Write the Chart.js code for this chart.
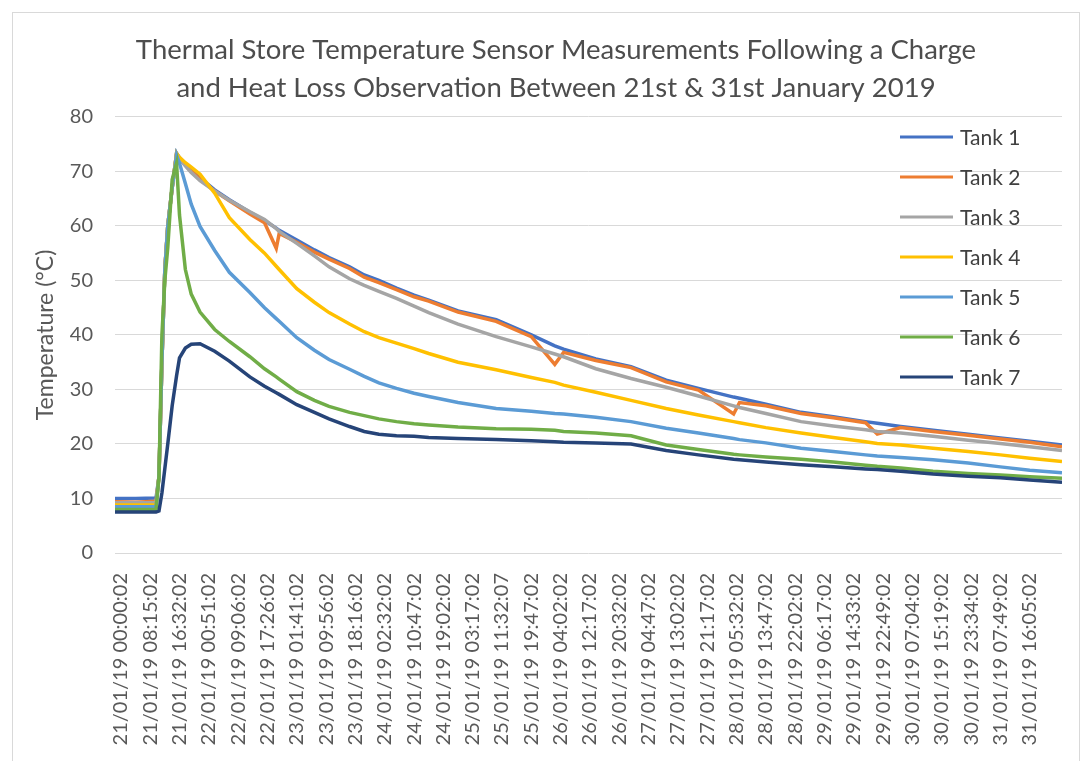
<!DOCTYPE html>
<html>
<head>
<meta charset="utf-8">
<script src="https://cdn.jsdelivr.net/npm/chart.js@4.4.1/dist/chart.umd.min.js"></script>
<style>
  html, body { margin: 0; padding: 0; background: #fff; }
</style>
</head>
<body>
<canvas id="tankChart" width="1091" height="761"></canvas>
<script>
// category labels shown on the x axis (one every ~8h15m of samples)
const tickLabels = [
    '21/01/19 00:00:02', '21/01/19 08:15:02', '21/01/19 16:32:02', '22/01/19 00:51:02',
    '22/01/19 09:06:02', '22/01/19 17:26:02', '23/01/19 01:41:02', '23/01/19 09:56:02',
    '23/01/19 18:16:02', '24/01/19 02:32:02', '24/01/19 10:47:02', '24/01/19 19:02:02',
    '25/01/19 03:17:02', '25/01/19 11:32:07', '25/01/19 19:47:02', '26/01/19 04:02:02',
    '26/01/19 12:17:02', '26/01/19 20:32:02', '27/01/19 04:47:02', '27/01/19 13:02:02',
    '27/01/19 21:17:02', '28/01/19 05:32:02', '28/01/19 13:47:02', '28/01/19 22:02:02',
    '29/01/19 06:17:02', '29/01/19 14:33:02', '29/01/19 22:49:02', '30/01/19 07:04:02',
    '30/01/19 15:19:02', '30/01/19 23:34:02', '31/01/19 07:49:02', '31/01/19 16:05:02'
];

// reading positions, in units of x-axis label spacing
const readingPos = [
    -0.2, 0.5, 1.2, 1.3, 1.4, 1.5, 1.6, 1.75, 1.9, 2.0,
    2.2, 2.4, 2.7, 3.2, 3.7, 4.4, 4.9, 5.3, 5.4, 6.0,
    6.6, 7.1, 7.8, 8.3, 8.8, 9.4, 10.0, 10.5, 11.5, 12.8,
    14.0, 14.8, 15.1, 16.2, 17.4, 18.6, 19.7, 20.9, 21.1, 22.0,
    23.2, 24.3, 25.4, 25.8, 26.6, 27.7, 28.9, 30.0, 31.0, 32.1
];

const tank1 = [
    10.0, 10.0, 10.1, 14, 35, 52, 60, 67, 73.3, 72.5,
    71.3, 70.2, 68.8, 66.6, 64.8, 62.5, 61.0, 59.6, 59.2, 57.4,
    55.6, 54.2, 52.5, 51.0, 50.0, 48.6, 47.3, 46.4, 44.4, 42.8,
    40.0, 38.0, 37.4, 35.6, 34.2, 31.7, 30.2, 28.6, 28.4, 27.3,
    25.8, 25.0, 24.1, 23.8, 23.2, 22.5, 21.8, 21.1, 20.5, 19.8
];
const tank2 = [
    9.4, 9.3, 9.5, 14, 35, 52, 60, 67, 73.2, 72.3,
    71.1, 70.0, 68.6, 66.4, 64.6, 62.2, 60.6, 55.9, 58.6, 57.0,
    55.2, 53.9, 52.2, 50.6, 49.6, 48.3, 47.0, 46.2, 44.2, 42.5,
    39.7, 34.6, 36.8, 35.3, 34.0, 31.4, 29.9, 25.5, 27.6, 27.0,
    25.6, 24.8, 23.9, 21.8, 23.0, 22.3, 21.6, 20.9, 20.3, 19.5
];
const tank3 = [
    9.2, 9.2, 9.2, 14, 35, 52, 60, 67, 73.3, 72.3,
    71.0, 69.8, 68.3, 66.4, 64.7, 62.6, 61.2, 59.5, 59.0, 56.8,
    54.5, 52.5, 50.3, 49.1, 48.0, 46.7, 45.3, 44.1, 42.0, 39.7,
    37.8, 36.5, 36.0, 33.8, 32.0, 30.4, 28.8, 27.0, 26.7, 25.6,
    24.1, 23.3, 22.6, 22.3, 22.0, 21.4, 20.7, 20.1, 19.5, 18.8
];
const tank4 = [
    8.8, 8.8, 8.8, 14, 35, 52, 60, 67, 73.3, 72.6,
    71.6, 70.8, 69.5, 66.0, 61.5, 57.5, 55.0, 52.6, 52.0, 48.5,
    46.0, 44.1, 42.0, 40.6, 39.5, 38.5, 37.5, 36.6, 35.0, 33.6,
    32.2, 31.3, 30.8, 29.5, 28.0, 26.5, 25.3, 24.1, 23.9, 23.0,
    22.0, 21.2, 20.4, 20.1, 19.8, 19.2, 18.6, 18.0, 17.4, 16.8
];
const tank5 = [
    8.5, 8.5, 8.5, 14, 35, 52, 60, 67, 73.0, 71.5,
    67.8, 64.0, 59.9, 55.5, 51.5, 47.8, 45.0, 43.0, 42.5, 39.5,
    37.2, 35.5, 33.7, 32.4, 31.2, 30.2, 29.3, 28.7, 27.6, 26.5,
    26.0, 25.6, 25.5, 24.9, 24.1, 22.9, 22.0, 21.0, 20.8, 20.2,
    19.2, 18.6, 18.0, 17.8, 17.5, 17.1, 16.5, 15.8, 15.2, 14.7
];
const tank6 = [
    8.0, 8.0, 8.0, 14, 40, 50, 56, 68.5, 71.5, 62,
    52, 47.5, 44.2, 41.0, 38.8, 36.0, 33.8, 32.3, 31.9, 29.6,
    28.0, 26.9, 25.8, 25.2, 24.6, 24.1, 23.7, 23.5, 23.1, 22.8,
    22.7, 22.5, 22.3, 22.0, 21.5, 19.8, 19.0, 18.1, 18.0, 17.6,
    17.2, 16.7, 16.1, 15.9, 15.6, 15.0, 14.6, 14.3, 14.0, 13.7
];
const tank7 = [
    7.5, 7.5, 7.5, 7.7, 11, 15.5, 20, 27, 32.5, 35.8,
    37.6, 38.3, 38.4, 37.0, 35.2, 32.3, 30.6, 29.4, 29.1, 27.2,
    25.8, 24.6, 23.2, 22.3, 21.8, 21.5, 21.4, 21.2, 21.0, 20.8,
    20.6, 20.4, 20.3, 20.2, 20.0, 18.8, 18.0, 17.2, 17.1, 16.7,
    16.2, 15.8, 15.4, 15.3, 15.0, 14.5, 14.1, 13.8, 13.4, 13.0
];

const seriesNames = ['Tank 1', 'Tank 2', 'Tank 3', 'Tank 4', 'Tank 5', 'Tank 6', 'Tank 7'];
const seriesValues = [tank1, tank2, tank3, tank4, tank5, tank6, tank7];
const seriesColors = ['#4472C4', '#ED7D31', '#A5A5A5', '#FFC000', '#5B9BD5', '#70AD47', '#264478'];

const datasets = seriesNames.map((name, i) => ({
    label: name,
    data: readingPos.map((x, j) => ({ x: x, y: seriesValues[i][j] })),
    borderColor: seriesColors[i],
    backgroundColor: seriesColors[i],
    borderWidth: 3.5,
    pointRadius: 0,
    tension: 0,
    fill: false,
    order: seriesNames.length - i  // later tanks drawn on top, like Excel
}));

// white background and thin chart border
const frame = {
    id: 'frame',
    beforeDraw(chart) {
        const ctx = chart.ctx;
        ctx.save();
        ctx.fillStyle = '#fff';
        ctx.fillRect(0, 0, chart.width, chart.height);
        ctx.strokeStyle = '#d9d9d9';
        ctx.lineWidth = 1;
        ctx.strokeRect(12.5, 12.5, 1067, 760);
        ctx.restore();
    }
};

// title sits a bit right of the canvas centre in the original
const shiftTitle = {
    id: 'shiftTitle',
    afterLayout(chart) {
        if (chart.titleBlock) chart.titleBlock.left = 50;
    }
};

// legend overlaid inside the plot area, top right
const overlayLegend = {
    id: 'overlayLegend',
    afterDraw(chart) {
        const ctx = chart.ctx;
        ctx.save();
        ctx.font = '21px Lato';
        ctx.textBaseline = 'middle';
        ctx.fillStyle = '#404040';
        chart.data.datasets.forEach((ds, i) => {
            const y = 137 + i * 40;
            ctx.strokeStyle = ds.borderColor;
            ctx.lineWidth = 3;
            ctx.beginPath();
            ctx.moveTo(900, y);
            ctx.lineTo(953, y);
            ctx.stroke();
            ctx.fillText(ds.label, 960, y + 1);
        });
        ctx.restore();
    }
};

const ctx = document.getElementById('tankChart').getContext('2d');
new Chart(ctx, {
    type: 'line',
    data: { datasets: datasets },
    plugins: [frame, shiftTitle, overlayLegend],
    options: {
        responsive: false,
        animation: false,
        layout: { padding: { top: 31, right: 29, bottom: 0, left: 0 } },
        plugins: {
            legend: { display: false },
            tooltip: { enabled: false },
            title: {
                display: true,
                text: ['Thermal Store Temperature Sensor Measurements Following a Charge',
                       'and Heat Loss Observation Between 21st & 31st January 2019'],
                color: '#4d4d4d',
                font: { family: 'Lato', size: 27.5, weight: 'normal', lineHeight: 1.38 },
                padding: { top: 0, bottom: 10 }
            }
        },
        scales: {
            x: {
                type: 'linear',
                min: -0.2,
                max: 32.1,
                grid: { display: false },
                border: { display: false },
                afterBuildTicks: (scale) => {
                    scale.ticks = tickLabels.map((_, i) => ({ value: i }));
                },
                afterFit: (scale) => { scale.height = 208; },
                ticks: {
                    autoSkip: false,
                    minRotation: 90,
                    maxRotation: 90,
                    padding: 12,
                    color: '#595959',
                    font: { family: 'Lato', size: 20 },
                    callback: (value) => tickLabels[value] ?? ''
                }
            },
            y: {
                min: 0,
                max: 80,
                grid: { color: '#d9d9d9', lineWidth: 1, drawTicks: false },
                border: { display: false },
                afterFit: (scale) => { scale.width = 115; },
                ticks: {
                    stepSize: 10,
                    padding: 22,
                    color: '#595959',
                    font: { family: 'Lato', size: 20 }
                },
                title: {
                    display: true,
                    text: 'Temperature (°C)',
                    color: '#595959',
                    font: { family: 'Lato', size: 23 },
                    padding: { top: 32, bottom: 0 }
                }
            }
        }
    }
});
</script>
</body>
</html>
